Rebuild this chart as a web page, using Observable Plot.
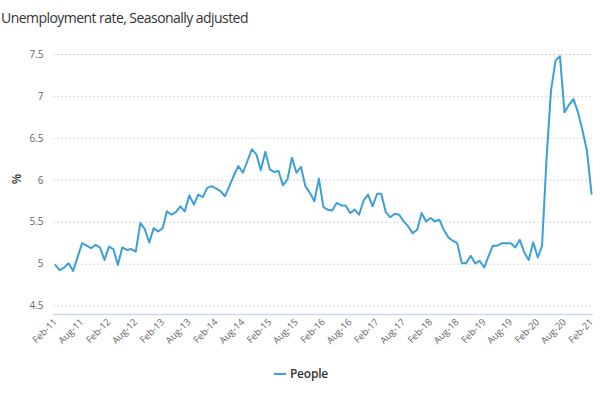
<!DOCTYPE html>
<html>
<head>
<meta charset="utf-8">
<script src="https://cdn.jsdelivr.net/npm/d3@7"></script>
<script src="https://cdn.jsdelivr.net/npm/@observablehq/plot@0.6"></script>
<style>
  body { margin: 0; background: #fff; font-family: "Open Sans", "Noto Sans", sans-serif; }
  #wrap { position: relative; width: 600px; height: 395px; overflow: hidden; }
  #title { position: absolute; left: 1px; top: 9px; font-size: 14px; letter-spacing: -0.55px; color: #333; white-space: nowrap; line-height: 18px; }
  #chart { position: absolute; left: 0; top: 30px; }
  #legend { position: absolute; left: 0; width: 600px; top: 365px; display: flex; justify-content: center; align-items: center; font-size: 12px; font-weight: 600; color: #333; letter-spacing: -0.2px; }
  #legend .sw { display: inline-block; width: 12px; height: 2px; background: #3d9fd8; margin-right: 4px; margin-left: 2px; }
</style>
</head>
<body>
<div id="wrap">
  <div id="title">Unemployment rate, Seasonally adjusted</div>
  <div id="chart"></div>
  <div id="legend"><span class="sw"></span><span>People</span></div>
</div>
<script>
// First month of the series (Feb 2011), monthly through Feb 2021
const startMonth = "2011-02-01";
// Unemployment rate, seasonally adjusted (%), "People"
const rates = [
  4.99, 4.93, 4.96, 5.01, 4.92, 5.08, 5.25, 5.22, 5.19, 5.23, 5.20, 5.05,
  5.21, 5.18, 4.99, 5.20, 5.17, 5.18, 5.15, 5.49, 5.42, 5.26, 5.43, 5.39,
  5.43, 5.63, 5.59, 5.62, 5.69, 5.63, 5.82, 5.71, 5.83, 5.80, 5.91, 5.93,
  5.90, 5.87, 5.81, 5.93, 6.06, 6.17, 6.09, 6.23, 6.37, 6.31, 6.12, 6.34,
  6.13, 6.10, 6.11, 5.94, 6.01, 6.27, 6.09, 6.16, 5.93, 5.85, 5.75, 6.02,
  5.68, 5.65, 5.64, 5.73, 5.70, 5.70, 5.61, 5.65, 5.59, 5.76, 5.83, 5.69,
  5.84, 5.84, 5.62, 5.56, 5.60, 5.59, 5.51, 5.45, 5.37, 5.41, 5.61, 5.51,
  5.55, 5.51, 5.53, 5.41, 5.32, 5.28, 5.25, 5.01, 5.01, 5.10, 5.01, 5.04,
  4.96, 5.09, 5.22, 5.22, 5.25, 5.25, 5.25, 5.20, 5.29, 5.14, 5.05, 5.26,
  5.08, 5.22, 6.27, 7.07, 7.43, 7.48, 6.81, 6.90, 6.97, 6.81, 6.60, 6.35,
  5.84
];
const yTicks = [4.5, 5, 5.5, 6, 6.5, 7, 7.5];
const xTickEveryMonths = 6;
const seriesName = "People";
const yLabel = "%";

const start = new Date(startMonth + "T00:00:00Z");
const data = rates.map((v, i) => ({date: d3.utcMonth.offset(start, i), value: v}));
const xTicks = data.filter((d, i) => i % xTickEveryMonths === 0).map(d => d.date);
const fmt = d3.utcFormat("%b-%y");

const chart = Plot.plot({
  width: 600,
  height: 320,
  marginTop: 15.6,
  marginBottom: 36,
  marginLeft: 53,
  marginRight: 7,
  style: {fontFamily: "'Open Sans', 'Noto Sans', sans-serif", background: "transparent"},
  x: {type: "utc", domain: [data[0].date, data[data.length - 1].date], insetLeft: 2, insetRight: 2, label: null},
  y: {domain: [4.4, 7.6], label: null},
  marks: [
    Plot.ruleY(yTicks, {stroke: "#d8d8d8", strokeDasharray: "2,2", strokeWidth: 1}),
    Plot.ruleY([4.4], {stroke: "#c9d8ee", strokeWidth: 1.5}),
    Plot.axisY(yTicks, {tickSize: 0, tickPadding: 10, fontSize: 10, fill: "#666", tickFormat: d => String(d), label: null}),
    Plot.axisX(xTicks, {tickSize: 0, tickPadding: 6, tickRotate: -45, fontSize: 9.5, fill: "#666", tickFormat: fmt, label: null}),
    Plot.text([yLabel], {frameAnchor: "left", dx: -36, dy: 4, rotate: -90, fontSize: 12, fill: "#333", fontWeight: 600}),
    Plot.lineY(data, {x: "date", y: "value", stroke: "#3d9fd8", strokeWidth: 2})
  ]
});
document.getElementById("chart").appendChild(chart);
document.getElementById("legend").lastElementChild.textContent = seriesName;
</script>
</body>
</html>
